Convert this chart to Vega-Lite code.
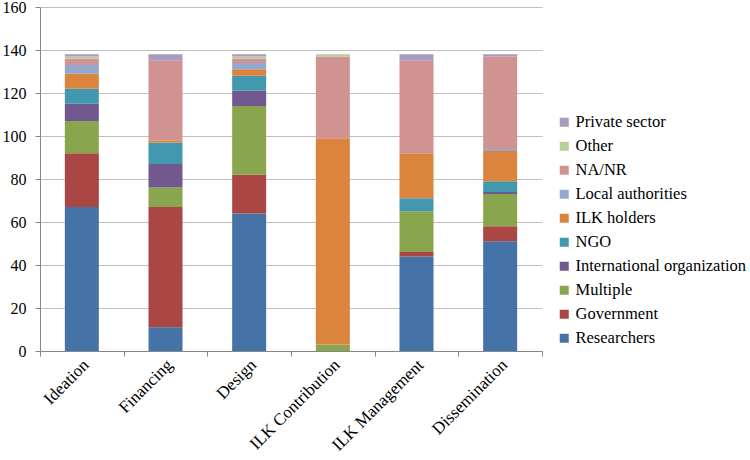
{
  "$schema": "https://vega.github.io/schema/vega-lite/v6.json",
  "width": 502,
  "height": 344,
  "autosize": {"type": "none"},
  "padding": {"left": 40, "top": 7, "right": 208, "bottom": 109},
  "background": "white",
  "config": {
    "view": {"stroke": null},
    "font": "Liberation Serif",
    "axis": {"labelFont": "Liberation Serif"},
    "legend": {"labelFont": "Liberation Serif", "padding": 0}
  },
  "data": {
    "values": [
      {"stage": "Ideation", "actor": "Researchers", "order": 1, "n": 67},
      {"stage": "Ideation", "actor": "Government", "order": 2, "n": 25},
      {"stage": "Ideation", "actor": "Multiple", "order": 3, "n": 15},
      {"stage": "Ideation", "actor": "International organization", "order": 4, "n": 8},
      {"stage": "Ideation", "actor": "NGO", "order": 5, "n": 7},
      {"stage": "Ideation", "actor": "ILK holders", "order": 6, "n": 7},
      {"stage": "Ideation", "actor": "Local authorities", "order": 7, "n": 4},
      {"stage": "Ideation", "actor": "NA/NR", "order": 8, "n": 3},
      {"stage": "Ideation", "actor": "Other", "order": 9, "n": 1},
      {"stage": "Ideation", "actor": "Private sector", "order": 10, "n": 1},
      {"stage": "Financing", "actor": "Researchers", "order": 1, "n": 11},
      {"stage": "Financing", "actor": "Government", "order": 2, "n": 56},
      {"stage": "Financing", "actor": "Multiple", "order": 3, "n": 9},
      {"stage": "Financing", "actor": "International organization", "order": 4, "n": 11},
      {"stage": "Financing", "actor": "NGO", "order": 5, "n": 10},
      {"stage": "Financing", "actor": "ILK holders", "order": 6, "n": 1},
      {"stage": "Financing", "actor": "Local authorities", "order": 7, "n": 0},
      {"stage": "Financing", "actor": "NA/NR", "order": 8, "n": 37},
      {"stage": "Financing", "actor": "Other", "order": 9, "n": 0},
      {"stage": "Financing", "actor": "Private sector", "order": 10, "n": 3},
      {"stage": "Design", "actor": "Researchers", "order": 1, "n": 64},
      {"stage": "Design", "actor": "Government", "order": 2, "n": 18},
      {"stage": "Design", "actor": "Multiple", "order": 3, "n": 32},
      {"stage": "Design", "actor": "International organization", "order": 4, "n": 7},
      {"stage": "Design", "actor": "NGO", "order": 5, "n": 7},
      {"stage": "Design", "actor": "ILK holders", "order": 6, "n": 3},
      {"stage": "Design", "actor": "Local authorities", "order": 7, "n": 3},
      {"stage": "Design", "actor": "NA/NR", "order": 8, "n": 2},
      {"stage": "Design", "actor": "Other", "order": 9, "n": 1},
      {"stage": "Design", "actor": "Private sector", "order": 10, "n": 1},
      {"stage": "ILK Contribution", "actor": "Researchers", "order": 1, "n": 0},
      {"stage": "ILK Contribution", "actor": "Government", "order": 2, "n": 0},
      {"stage": "ILK Contribution", "actor": "Multiple", "order": 3, "n": 3},
      {"stage": "ILK Contribution", "actor": "International organization", "order": 4, "n": 0},
      {"stage": "ILK Contribution", "actor": "NGO", "order": 5, "n": 0},
      {"stage": "ILK Contribution", "actor": "ILK holders", "order": 6, "n": 96},
      {"stage": "ILK Contribution", "actor": "Local authorities", "order": 7, "n": 0},
      {"stage": "ILK Contribution", "actor": "NA/NR", "order": 8, "n": 38},
      {"stage": "ILK Contribution", "actor": "Other", "order": 9, "n": 1},
      {"stage": "ILK Contribution", "actor": "Private sector", "order": 10, "n": 0},
      {"stage": "ILK Management", "actor": "Researchers", "order": 1, "n": 44},
      {"stage": "ILK Management", "actor": "Government", "order": 2, "n": 2},
      {"stage": "ILK Management", "actor": "Multiple", "order": 3, "n": 19},
      {"stage": "ILK Management", "actor": "International organization", "order": 4, "n": 0},
      {"stage": "ILK Management", "actor": "NGO", "order": 5, "n": 6},
      {"stage": "ILK Management", "actor": "ILK holders", "order": 6, "n": 21},
      {"stage": "ILK Management", "actor": "Local authorities", "order": 7, "n": 0},
      {"stage": "ILK Management", "actor": "NA/NR", "order": 8, "n": 43},
      {"stage": "ILK Management", "actor": "Other", "order": 9, "n": 0},
      {"stage": "ILK Management", "actor": "Private sector", "order": 10, "n": 3},
      {"stage": "Dissemination", "actor": "Researchers", "order": 1, "n": 51},
      {"stage": "Dissemination", "actor": "Government", "order": 2, "n": 7},
      {"stage": "Dissemination", "actor": "Multiple", "order": 3, "n": 15},
      {"stage": "Dissemination", "actor": "International organization", "order": 4, "n": 1},
      {"stage": "Dissemination", "actor": "NGO", "order": 5, "n": 5},
      {"stage": "Dissemination", "actor": "ILK holders", "order": 6, "n": 14},
      {"stage": "Dissemination", "actor": "Local authorities", "order": 7, "n": 1},
      {"stage": "Dissemination", "actor": "NA/NR", "order": 8, "n": 43},
      {"stage": "Dissemination", "actor": "Other", "order": 9, "n": 0},
      {"stage": "Dissemination", "actor": "Private sector", "order": 10, "n": 1}
    ]
  },
  "mark": {"type": "bar", "width": 34},
  "encoding": {
    "x": {
      "field": "stage",
      "type": "nominal",
      "sort": ["Ideation", "Financing", "Design", "ILK Contribution", "ILK Management", "Dissemination"],
      "scale": {"paddingInner": 0, "paddingOuter": 0},
      "axis": {
        "title": null,
        "labelAngle": -45,
        "labelAlign": "right",
        "labelBaseline": "middle",
        "labelFont": "Liberation Serif",
        "labelFontSize": 17,
        "labelColor": "#000000",
        "labelPadding": 6,
        "labelOffset": 4,
        "tickBand": "extent",
        "tickSize": 5,
        "tickColor": "#868686",
        "domainColor": "#868686",
        "grid": false
      }
    },
    "y": {
      "field": "n",
      "type": "quantitative",
      "stack": "zero",
      "scale": {"domain": [0, 160], "nice": false},
      "axis": {
        "title": null,
        "values": [0, 20, 40, 60, 80, 100, 120, 140, 160],
        "labelFont": "Liberation Serif",
        "labelFontSize": 16,
        "labelColor": "#000000",
        "labelPadding": 9,
        "tickSize": 5,
        "tickColor": "#868686",
        "domainColor": "#868686",
        "gridColor": "#BFBFBF",
        "gridWidth": 1
      }
    },
    "order": {"field": "order", "type": "quantitative"},
    "color": {
      "field": "actor",
      "type": "nominal",
      "scale": {
        "domain": ["Private sector", "Other", "NA/NR", "Local authorities", "ILK holders", "NGO", "International organization", "Multiple", "Government", "Researchers"],
        "range": ["#A99BBD", "#B9CD96", "#D19392", "#93A9CF", "#DB843D", "#4198AF", "#71588F", "#89A54E", "#AA4643", "#4572A7"]
      },
      "legend": {
        "title": null,
        "orient": "none",
        "legendX": 516,
        "legendY": 107,
        "padding": 0,
        "symbolType": "square",
        "symbolSize": 81,
        "symbolStrokeWidth": 0,
        "labelFont": "Liberation Serif",
        "labelFontSize": 16.5,
        "labelColor": "#000000",
        "labelOffset": 3,
        "rowPadding": 7,
        "labelLimit": 300
      }
    }
  }
}
